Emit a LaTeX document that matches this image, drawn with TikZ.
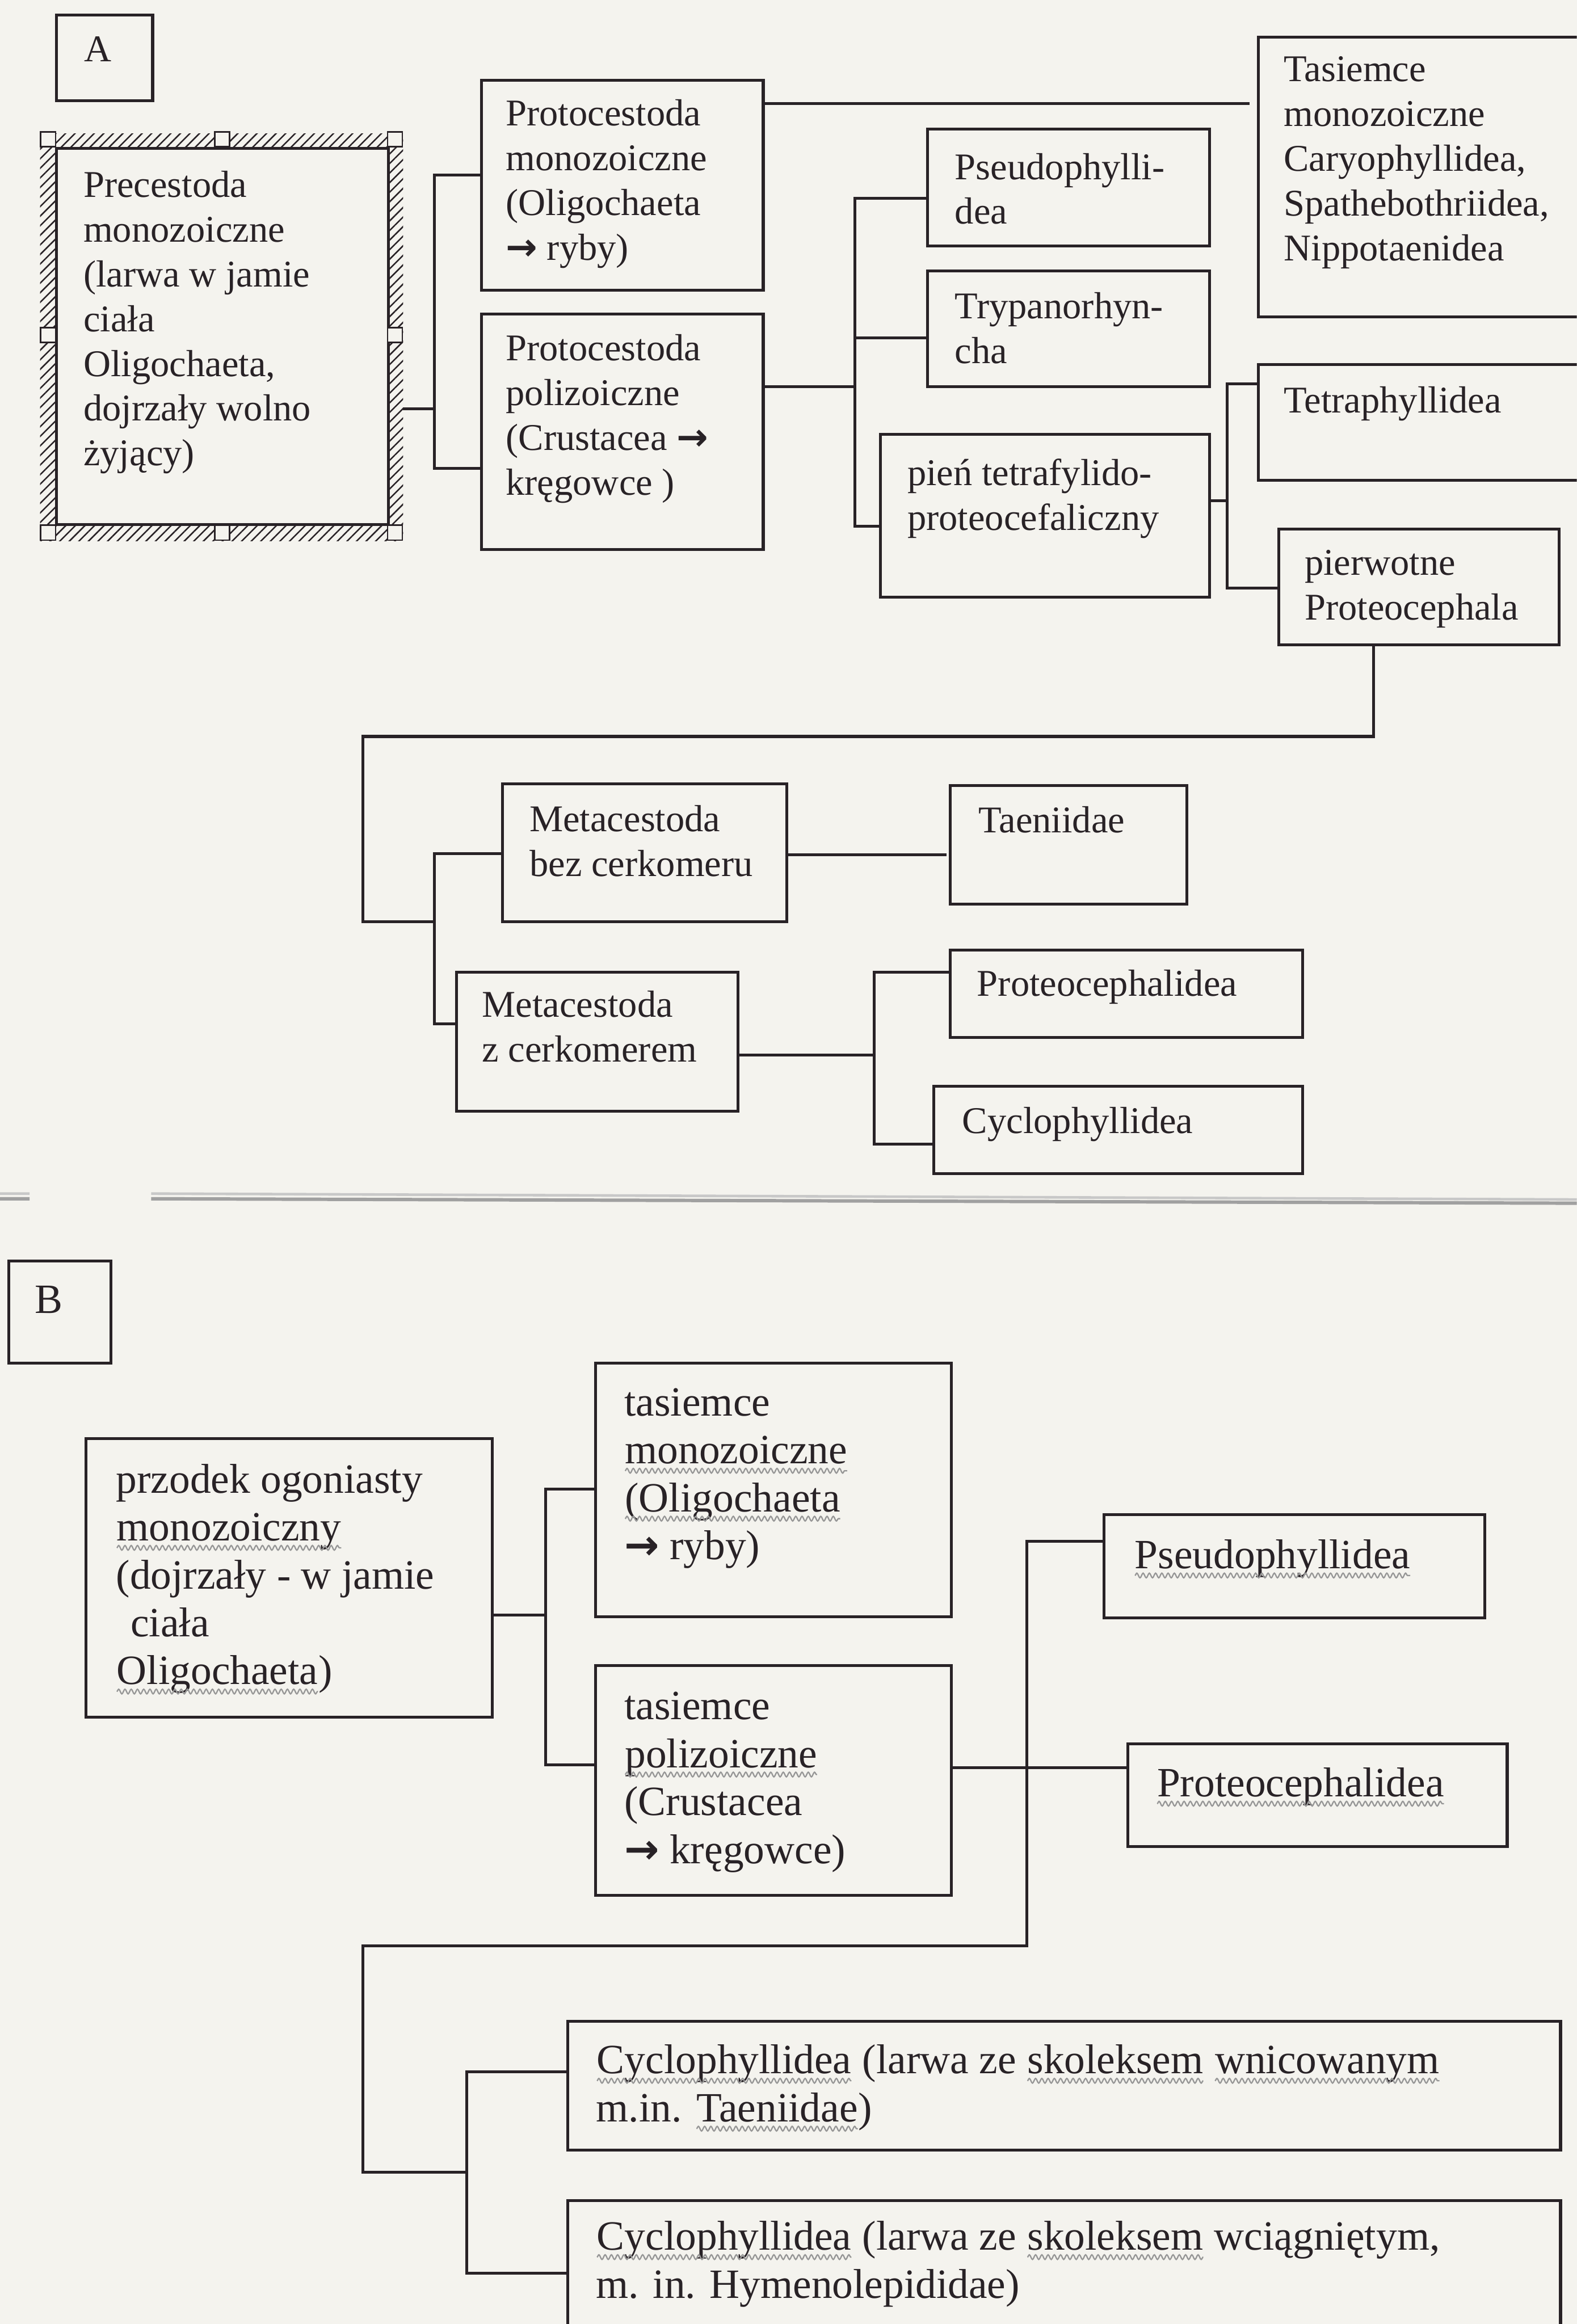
\documentclass[tikz,border=0pt]{standalone}
\usepackage{fontspec}
\setmainfont{Liberation Serif}
\newfontfamily\arrowfont{DejaVu Sans}
\usetikzlibrary{fit,patterns.meta,decorations.pathmorphing}
\definecolor{paper}{RGB}{244,243,238}
\definecolor{ink}{RGB}{40,34,38}
\definecolor{squigc}{RGB}{150,150,150}
\newcommand\ml[1]{\begin{tabular}[t]{@{}l@{}}#1\end{tabular}}
\newcommand\arr{{\arrowfont\bfseries →}}
\newcommand\sq[1]{\tikz[baseline=(sqw.base)]{\node[inner sep=0pt,outer sep=0pt,anchor=base](sqw){#1};\draw[squigc,line width=0.5pt,decorate,decoration={snake,amplitude=0.9pt,segment length=2.4pt}]([yshift=-2.7pt]sqw.base west)--([yshift=-2.7pt]sqw.base east);}}
\begin{document}
\begin{tikzpicture}[x=0.02cm,y=-0.02cm,
  box/.style={draw=ink,line width=1.1pt,inner sep=0pt,outer sep=0pt},
  conn/.style={draw=ink,line width=1.1pt},
  txtA/.style={anchor=base west,inner sep=0pt,text=ink,font=\fontsize{14.5}{17.2}\selectfont},
  txtB/.style={anchor=base west,inner sep=0pt,text=ink,font=\fontsize{16}{18.4}\selectfont},
  handle/.style={draw=ink,fill=paper,line width=0.6pt,minimum size=0.2cm,inner sep=0pt}]
\useasboundingbox (0,0) rectangle (1064,1568.4);
\fill[paper] (0,0) rectangle (1064,1568.4);
\clip (0,0) rectangle (1064,1568.4);

% ---------------- Section A ----------------
\node[box,fit={(38,10)(103,68)}] (la) {};
\node[txtA,anchor=center] (tla) at (66,33) {A};

\node[fit={(27,90)(272,365)},inner sep=0pt,outer sep=0pt,pattern={Lines[angle=45,distance=2.6pt,line width=0.55pt]},pattern color=ink] (pre) {};
\node[box,fill=paper,fit={(38,100)(262,354)}] (prein) {};
\node[handle] (h1) at (32.5,94) {};
\node[handle] (h2) at (150,94) {};
\node[handle] (h3) at (266.5,94) {};
\node[handle] (h4) at (32.5,226) {};
\node[handle] (h5) at (266.5,226) {};
\node[handle] (h6) at (32.5,359.5) {};
\node[handle] (h7) at (150,359.5) {};
\node[handle] (h8) at (266.5,359.5) {};
\node[txtA] (tpre) at (56,133) {\ml{Precestoda\\monozoiczne\\(larwa w jamie\\ciała\\Oligochaeta,\\dojrzały wolno\\żyjący)}};

\node[box,fit={(325,54)(515,196)}] (pm) {};
\node[txtA] (tpm) at (341,85) {\ml{Protocestoda\\monozoiczne\\(Oligochaeta\\\arr{} ryby)}};
\node[box,fit={(325,212)(515,371)}] (pp) {};
\node[txtA] (tpp) at (341,243.5) {\ml{Protocestoda\\polizoiczne\\(Crustacea \arr\\kręgowce )}};
\node[box,fit={(849,25)(1075,214)}] (tas) {};
\node[txtA] (ttas) at (866,55) {\ml{Tasiemce\\monozoiczne\\Caryophyllidea,\\Spathebothriidea,\\Nippotaenidea}};
\node[box,fit={(626,87)(816,166)}] (ps) {};
\node[txtA] (tps) at (644,121) {\ml{Pseudophylli-\\dea}};
\node[box,fit={(626,183)(816,261)}] (tr) {};
\node[txtA] (ttr) at (644,215) {\ml{Trypanorhyn-\\cha}};
\node[box,fit={(594,293)(816,403)}] (pien) {};
\node[txtA] (tpien) at (612,327.5) {\ml{pień tetrafylido-\\proteocefaliczny}};
\node[box,fit={(849,246)(1075,324)}] (tet) {};
\node[txtA] (ttet) at (866,278.5) {Tetraphyllidea};
\node[box,fit={(863,357)(1052,435)}] (pw) {};
\node[txtA] (tpw) at (880,388) {\ml{pierwotne\\Proteocephala}};
\node[box,fit={(339,529)(531,622)}] (mb) {};
\node[txtA] (tmb) at (357,561) {\ml{Metacestoda\\bez cerkomeru}};
\node[box,fit={(641,530)(801,610)}] (tae) {};
\node[txtA] (ttae) at (660,562) {Taeniidae};
\node[box,fit={(308,656)(498,750)}] (mz) {};
\node[txtA] (tmz) at (325,686.5) {\ml{Metacestoda\\z cerkomerem}};
\node[box,fit={(641,641)(879,700)}] (pr) {};
\node[txtA] (tpr) at (659,672) {Proteocephalidea};
\node[box,fit={(630,733)(879,792)}] (cy) {};
\node[txtA] (tcy) at (649,765) {Cyclophyllidea};

% connectors A
\coordinate (a0) at (293,276);
\coordinate (a1) at (293,118);
\coordinate (a2) at (293,316);
\draw[conn] (pre.east |- a0) -- (a0);
\draw[conn] (pm.west |- a1) -- (a1) -- (a2) -- (pp.west |- a2);
\coordinate (a3) at (700,70);
\draw[conn,shorten >=3.4pt] (pm.east |- a3) -- (tas.west |- a3);
\coordinate (b0) at (577,261);
\coordinate (b1) at (577,134);
\coordinate (b2) at (577,228);
\coordinate (b3) at (577,355);
\draw[conn] (pp.east |- b0) -- (b0);
\draw[conn] (ps.west |- b1) -- (b1) -- (b3) -- (pien.west |- b3);
\draw[conn] (b2) -- (tr.west |- b2);
\coordinate (c0) at (828,338);
\coordinate (c1) at (828,259);
\coordinate (c2) at (828,397);
\draw[conn] (pien.east |- c0) -- (c0);
\draw[conn] (tet.west |- c1) -- (c1) -- (c2) -- (pw.west |- c2);
\coordinate (d1) at (927,497);
\coordinate (d2) at (245,497);
\coordinate (d3) at (245,622);
\coordinate (d4) at (293,622);
\draw[conn] (pw.south -| d1) -- (d1) -- (d2) -- (d3) -- (d4);
\coordinate (e1) at (293,576);
\coordinate (e2) at (293,691);
\draw[conn] (mb.west |- e1) -- (e1) -- (e2) -- (mz.west |- e2);
\coordinate (f0) at (600,577);
\draw[conn,shorten >=1.4pt] (mb.east |- f0) -- (tae.west |- f0);
\coordinate (g0) at (590,712);
\coordinate (g1) at (590,656);
\coordinate (g2) at (590,772);
\draw[conn] (mz.east |- g0) -- (g0);
\draw[conn] (pr.west |- g1) -- (g1) -- (g2) -- (cy.west |- g2);

% separator
\draw[color={rgb,255:red,200;green,200;blue,200},line width=1pt] (0,805.5) -- (20,805.5) (102,805.5) -- (1064,809.5);
\draw[color={rgb,255:red,160;green,160;blue,160},line width=1.3pt] (0,809) -- (20,809) (102,809) -- (1064,812);

% ---------------- Section B ----------------
\node[box,fit={(6,851)(75,920)}] (lb) {};
\node[txtB,anchor=center] (tlb) at (33,877) {B};

\node[box,fit={(58,971)(332,1159)}] (prz) {};
\node[txtB] (tprz) at (78,1007.5) {\ml{przodek ogoniasty\\\sq{monozoiczny}\\(dojrzały - w jamie\\\hspace{0.35em}ciała\\\sq{Oligochaeta})}};
\node[box,fit={(402,920)(642,1091)}] (tm) {};
\node[txtB] (ttm) at (421,955.5) {\ml{tasiemce\\\sq{monozoiczne}\\\sq{(Oligochaeta}\\\arr{} ryby)}};
\node[box,fit={(402,1124)(642,1279)}] (tp) {};
\node[txtB] (ttp) at (421,1160.5) {\ml{tasiemce\\\sq{polizoiczne}\\(Crustacea\\\arr{} kręgowce)}};
\node[box,fit={(745,1022)(1002,1092)}] (psb) {};
\node[txtB] (tpsb) at (765,1058.5) {\sq{Pseudophyllidea}};
\node[box,fit={(761,1177)(1017,1246)}] (prb) {};
\node[txtB] (tprb) at (780,1212.5) {\sq{Proteocephalidea}};
\node[box,fit={(383,1364)(1053,1451)}] (cb1) {};
\node[txtB] (tcb1) at (402,1399.5) {\ml{\sq{Cyclophyllidea} (larwa ze \sq{skoleksem} \sq{wnicowanym}\\m.in. \sq{Taeniidae})}};
\node[box,fit={(383,1485)(1053,1590)}] (cb2) {};
\node[txtB] (tcb2) at (402,1518.5) {\ml{\sq{Cyclophyllidea} (larwa ze \sq{skoleksem} wciągniętym,\\m. in. Hymenolepididae)}};

% connectors B
\coordinate (k0) at (368,1090);
\coordinate (k1) at (368,1005);
\coordinate (k2) at (368,1191);
\draw[conn] (prz.east |- k0) -- (k0);
\draw[conn] (tm.west |- k1) -- (k1) -- (k2) -- (tp.west |- k2);
\coordinate (i0) at (693,1193);
\coordinate (i1) at (693,1040);
\coordinate (i2) at (693,1313);
\coordinate (i3) at (245,1313);
\coordinate (i4) at (245,1466);
\coordinate (i5) at (315,1466);
\coordinate (i6) at (315,1398);
\coordinate (i7) at (315,1534);
\draw[conn] (tp.east |- i0) -- (prb.west |- i0);
\draw[conn] (psb.west |- i1) -- (i1) -- (i2) -- (i3) -- (i4) -- (i5);
\draw[conn] (cb1.west |- i6) -- (i6) -- (i7) -- (cb2.west |- i7);
\end{tikzpicture}
\end{document}
